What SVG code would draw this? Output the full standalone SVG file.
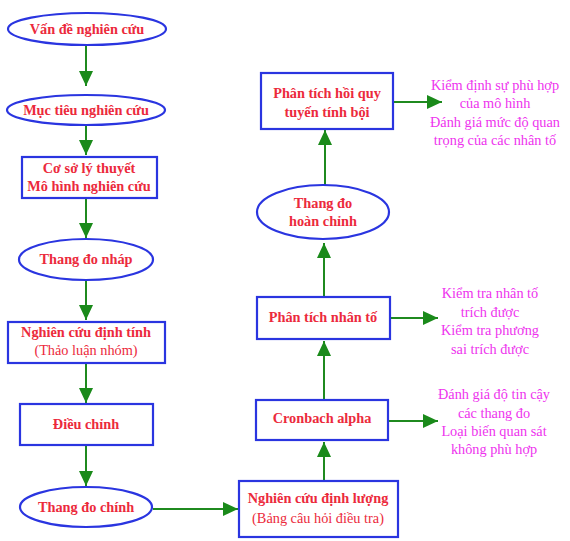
<svg xmlns="http://www.w3.org/2000/svg" width="570" height="541" viewBox="0 0 570 541">
<style>
.n{fill:#fff;stroke:#2a35e0;stroke-width:2.2}
.t{font-family:"Liberation Serif",serif;font-weight:bold;font-size:14.3px;fill:#ec2a3c;text-anchor:middle}
.s{font-family:"Liberation Serif",serif;font-size:14.3px;fill:#ec2a3c;text-anchor:middle}
.m{font-family:"Liberation Serif",serif;font-size:14.3px;fill:#ee33ee;text-anchor:middle}
.c{stroke:#1f8a1f;stroke-width:2;fill:none;marker-end:url(#ah)}
</style>
<defs>
<marker id="ah" markerUnits="userSpaceOnUse" markerWidth="16" markerHeight="14" refX="15" refY="7" orient="auto">
<path d="M0,0 L15,7 L0,14 Z" fill="#1a8a1a"/>
</marker>
</defs>
<rect width="570" height="541" fill="#fff"/>
<g id="connectors">
<line class="c" x1="86" y1="46" x2="86" y2="86"/>
<line class="c" x1="86" y1="125" x2="86" y2="155"/>
<line class="c" x1="86" y1="198" x2="86" y2="238"/>
<line class="c" x1="86" y1="280" x2="86" y2="320"/>
<line class="c" x1="86" y1="363" x2="86" y2="403"/>
<line class="c" x1="86" y1="445" x2="86" y2="486"/>
<line class="c" x1="153" y1="509" x2="238" y2="509"/>
<line class="c" x1="324" y1="480" x2="324" y2="442"/>
<line class="c" x1="324" y1="399" x2="324" y2="341"/>
<line class="c" x1="324" y1="297" x2="324" y2="243"/>
<line class="c" x1="325" y1="185" x2="325" y2="130"/>
<line class="c" x1="393" y1="102" x2="442" y2="102"/>
<line class="c" x1="390" y1="318" x2="438" y2="318"/>
<line class="c" x1="388" y1="421" x2="438" y2="421"/>
</g>
<g id="van-de">
<ellipse class="n" cx="87" cy="29" rx="79" ry="16"/>
<text class="t" x="87" y="34">Vấn đề nghiên cứu</text>
</g>
<g id="muc-tieu">
<ellipse class="n" cx="86" cy="110" rx="79" ry="15"/>
<text class="t" x="86" y="115">Mục tiêu nghiên cứu</text>
</g>
<g id="co-so">
<rect class="n" x="22" y="157" width="135" height="41"/>
<text class="t" x="89" y="173">Cơ sở lý thuyết</text>
<text class="t" x="89" y="191">Mô hình nghiên cứu</text>
</g>
<g id="thang-do-nhap">
<ellipse class="n" cx="86" cy="259.5" rx="67" ry="20.5"/>
<text class="t" x="86" y="264">Thang đo nháp</text>
</g>
<g id="dinh-tinh">
<rect class="n" x="8" y="322" width="157" height="41"/>
<text class="t" x="86" y="337">Nghiên cứu định tính</text>
<text class="s" x="86" y="355">(Thảo luận nhóm)</text>
</g>
<g id="dieu-chinh">
<rect class="n" x="20" y="404" width="133" height="41"/>
<text class="t" x="86" y="429">Điều chỉnh</text>
</g>
<g id="thang-do-chinh">
<ellipse class="n" cx="86" cy="507" rx="66" ry="20"/>
<text class="t" x="86" y="512">Thang đo chính</text>
</g>
<g id="dinh-luong">
<rect class="n" x="239" y="481" width="159" height="56"/>
<text class="t" x="318" y="503">Nghiên cứu định lượng</text>
<text class="s" x="318" y="523">(Bảng câu hỏi điều tra)</text>
</g>
<g id="cronbach">
<rect class="n" x="256" y="400" width="132" height="40"/>
<text class="t" x="322" y="423">Cronbach alpha</text>
</g>
<g id="phan-tich-nhan-to">
<rect class="n" x="257" y="297" width="133" height="42"/>
<text class="t" x="323" y="322">Phân tích nhân tố</text>
</g>
<g id="thang-do-hoan-chinh">
<ellipse class="n" cx="323" cy="212" rx="66" ry="27"/>
<text class="t" x="323" y="208">Thang đo</text>
<text class="t" x="323" y="226">hoàn chỉnh</text>
</g>
<g id="hoi-quy">
<rect class="n" x="261" y="73" width="132" height="56"/>
<text class="t" x="327" y="98">Phân tích hồi quy</text>
<text class="t" x="327" y="117">tuyến tính bội</text>
</g>
<g id="note-hoi-quy">
<text class="m" x="495" y="90">Kiểm định sự phù hợp</text>
<text class="m" x="495" y="108">của mô hình</text>
<text class="m" x="495" y="127">Đánh giá mức độ quan</text>
<text class="m" x="495" y="145">trọng của các nhân tố</text>
</g>
<g id="note-nhan-to">
<text class="m" x="490" y="298">Kiểm tra nhân tố</text>
<text class="m" x="490" y="317">trích được</text>
<text class="m" x="490" y="335">Kiểm tra phương</text>
<text class="m" x="490" y="354">sai trích được</text>
</g>
<g id="note-cronbach">
<text class="m" x="494" y="399">Đánh giá độ tin cậy</text>
<text class="m" x="494" y="418">các thang đo</text>
<text class="m" x="494" y="436">Loại biến quan sát</text>
<text class="m" x="494" y="454">không phù hợp</text>
</g>
</svg>
